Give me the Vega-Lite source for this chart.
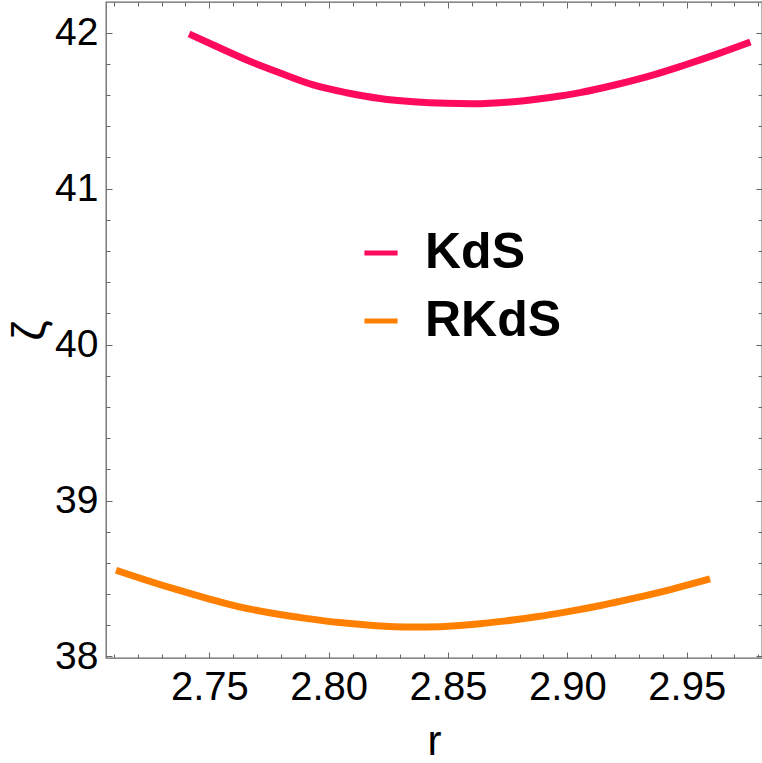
{
  "$schema": "https://vega.github.io/schema/vega-lite/v6.json",
  "width": 656,
  "height": 656,
  "autosize": {"type": "none"},
  "padding": {"left": 106, "top": 2, "right": 0, "bottom": 105},
  "background": "white",
  "config": {
    "view": {"stroke": "#666666", "strokeWidth": 1.3},
    "font": "Liberation Sans",
    "axis": {"grid": false, "domain": false, "tickColor": "#666666", "tickWidth": 1}
  },
  "data": {
    "values": [
      {"r": 2.7415, "z": 41.992, "s": "KdS"},
      {"r": 2.7540, "z": 41.905, "s": "KdS"},
      {"r": 2.7657, "z": 41.825, "s": "KdS"},
      {"r": 2.7800, "z": 41.740, "s": "KdS"},
      {"r": 2.7936, "z": 41.665, "s": "KdS"},
      {"r": 2.8075, "z": 41.615, "s": "KdS"},
      {"r": 2.8215, "z": 41.578, "s": "KdS"},
      {"r": 2.8355, "z": 41.557, "s": "KdS"},
      {"r": 2.8495, "z": 41.547, "s": "KdS"},
      {"r": 2.8600, "z": 41.545, "s": "KdS"},
      {"r": 2.8774, "z": 41.558, "s": "KdS"},
      {"r": 2.8927, "z": 41.585, "s": "KdS"},
      {"r": 2.9053, "z": 41.616, "s": "KdS"},
      {"r": 2.9207, "z": 41.668, "s": "KdS"},
      {"r": 2.9350, "z": 41.725, "s": "KdS"},
      {"r": 2.9486, "z": 41.790, "s": "KdS"},
      {"r": 2.9630, "z": 41.864, "s": "KdS"},
      {"r": 2.9767, "z": 41.940, "s": "KdS"},
      {"r": 2.7109, "z": 38.553, "s": "RKdS"},
      {"r": 2.7230, "z": 38.492, "s": "RKdS"},
      {"r": 2.7347, "z": 38.436, "s": "RKdS"},
      {"r": 2.7490, "z": 38.373, "s": "RKdS"},
      {"r": 2.7626, "z": 38.318, "s": "RKdS"},
      {"r": 2.7765, "z": 38.277, "s": "RKdS"},
      {"r": 2.7905, "z": 38.244, "s": "RKdS"},
      {"r": 2.8045, "z": 38.217, "s": "RKdS"},
      {"r": 2.8185, "z": 38.199, "s": "RKdS"},
      {"r": 2.8350, "z": 38.189, "s": "RKdS"},
      {"r": 2.8464, "z": 38.191, "s": "RKdS"},
      {"r": 2.8600, "z": 38.205, "s": "RKdS"},
      {"r": 2.8743, "z": 38.228, "s": "RKdS"},
      {"r": 2.8870, "z": 38.254, "s": "RKdS"},
      {"r": 2.8997, "z": 38.286, "s": "RKdS"},
      {"r": 2.9140, "z": 38.327, "s": "RKdS"},
      {"r": 2.9276, "z": 38.372, "s": "RKdS"},
      {"r": 2.9440, "z": 38.432, "s": "RKdS"},
      {"r": 2.9598, "z": 38.497, "s": "RKdS"}
    ]
  },
  "layer": [
    {
      "mark": {"type": "line", "strokeWidth": 7, "strokeCap": "butt", "interpolate": "monotone", "clip": true},
      "encoding": {
        "x": {"field": "r", "type": "quantitative",
          "scale": {"domain": [2.70672, 2.98155], "nice": false, "zero": false},
          "axis": {"orient": "bottom", "values": [2.75, 2.8, 2.85, 2.9, 2.95], "format": ".2f",
            "tickSize": -6, "labelPadding": 15, "labelFontSize": 40, "labelColor": "black",
            "title": "r", "titleFontSize": 42, "titleFontWeight": "normal", "titleColor": "black", "titlePadding": 14}},
        "y": {"field": "z", "type": "quantitative",
          "scale": {"domain": [37.99, 42.197], "nice": false, "zero": false},
          "axis": {"orient": "left", "values": [38, 39, 40, 41, 42], "format": "d",
            "tickSize": -6, "labelPadding": 14, "labelFontSize": 39, "labelColor": "black",
            "title": "ζ", "titleFontSize": 46, "titleFontWeight": "normal", "titleColor": "black", "titlePadding": 0}},
        "color": {"field": "s", "type": "nominal",
          "scale": {"domain": ["KdS", "RKdS"], "range": ["#ff0a5c", "#ff8000"]},
          "legend": {"orient": "none", "legendX": 250, "legendY": 226, "title": null,
            "symbolType": "stroke", "symbolSize": 1100, "symbolStrokeWidth": 5,
            "labelFontSize": 50, "labelFontWeight": "bold", "labelColor": "black",
            "labelOffset": 19, "rowPadding": 18, "padding": 0, "labelLimit": 400}}
      }
    },
    {
      "mark": {"type": "line", "opacity": 0},
      "encoding": {
        "x": {"field": "r", "type": "quantitative",
          "axis": {"orient": "bottom", "values": [2.71, 2.72, 2.73, 2.74, 2.76, 2.77, 2.78, 2.79, 2.81, 2.82, 2.83, 2.84, 2.86, 2.87, 2.88, 2.89, 2.91, 2.92, 2.93, 2.94, 2.96, 2.97, 2.98],
            "tickSize": -4, "labels": false, "title": null}},
        "y": {"field": "z", "type": "quantitative",
          "axis": {"orient": "left", "values": [38.2, 38.4, 38.6, 38.8, 39.2, 39.4, 39.6, 39.8, 40.2, 40.4, 40.6, 40.8, 41.2, 41.4, 41.6, 41.8],
            "tickSize": -4, "labels": false, "title": null}},
        "detail": {"field": "s"}
      }
    },
    {
      "mark": {"type": "line", "opacity": 0},
      "encoding": {
        "x": {"field": "r", "type": "quantitative",
          "axis": {"orient": "top", "values": [2.75, 2.8, 2.85, 2.9, 2.95],
            "tickSize": -6, "labels": false, "title": null}},
        "y": {"field": "z", "type": "quantitative",
          "axis": {"orient": "right", "values": [38, 39, 40, 41, 42],
            "tickSize": -6, "labels": false, "title": null}},
        "detail": {"field": "s"}
      }
    },
    {
      "mark": {"type": "line", "opacity": 0},
      "encoding": {
        "x": {"field": "r", "type": "quantitative",
          "axis": {"orient": "top", "values": [2.71, 2.72, 2.73, 2.74, 2.76, 2.77, 2.78, 2.79, 2.81, 2.82, 2.83, 2.84, 2.86, 2.87, 2.88, 2.89, 2.91, 2.92, 2.93, 2.94, 2.96, 2.97, 2.98],
            "tickSize": -4, "labels": false, "title": null}},
        "y": {"field": "z", "type": "quantitative",
          "axis": {"orient": "right", "values": [38.2, 38.4, 38.6, 38.8, 39.2, 39.4, 39.6, 39.8, 40.2, 40.4, 40.6, 40.8, 41.2, 41.4, 41.6, 41.8],
            "tickSize": -4, "labels": false, "title": null}},
        "detail": {"field": "s"}
      }
    }
  ],
  "resolve": {"axis": {"x": "independent", "y": "independent"}}
}
